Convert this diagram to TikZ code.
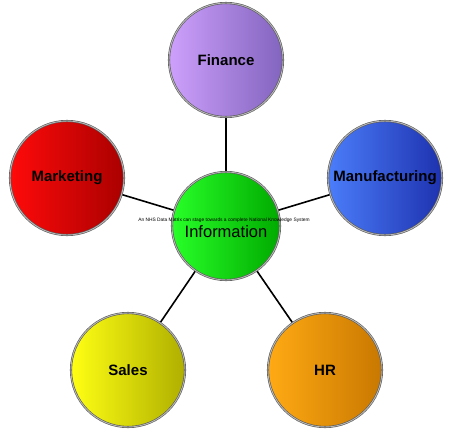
\documentclass[tikz,border=0pt]{standalone}
\usepackage{fontspec}
\setmainfont{Liberation Sans}
\begin{document}
\begin{tikzpicture}[x=1pt,y=-1pt,
  bubble/.style={circle, minimum size=114pt, inner sep=0pt, draw=black!65, double=gray!55, double distance=0.9pt, line width=0.6pt, shading angle=#1, font=\fontsize{15}{17}\selectfont\bfseries},
  bubble/.default=60,
  link/.style={line width=1.6pt, black}]
\useasboundingbox (0,0) rectangle (450,440);
\fill[white] (0,0) rectangle (450,440);
% connectors (behind)
\coordinate (ic) at (226,226);
\coordinate (fc) at (226,60);
\coordinate (mc) at (67,178);
\coordinate (nc) at (385,178);
\coordinate (sc) at (128,370);
\coordinate (hc) at (325,370);
\draw[link] (ic) -- (fc);
\draw[link] (ic) -- (mc);
\draw[link] (ic) -- (nc);
\draw[link] (ic) -- (sc);
\draw[link] (ic) -- (hc);
% circles
\definecolor{finL}{RGB}{205,160,252}\definecolor{finM}{RGB}{175,135,230}\definecolor{finD}{RGB}{130,100,190}
\definecolor{mktL}{RGB}{255,10,10}\definecolor{mktM}{RGB}{225,0,0}\definecolor{mktD}{RGB}{170,0,0}
\definecolor{manL}{RGB}{75,125,250}\definecolor{manM}{RGB}{50,90,225}\definecolor{manD}{RGB}{30,50,175}
\definecolor{infL}{RGB}{40,255,40}\definecolor{infM}{RGB}{10,225,10}\definecolor{infD}{RGB}{0,170,0}
\definecolor{salL}{RGB}{255,255,20}\definecolor{salM}{RGB}{235,235,0}\definecolor{salD}{RGB}{175,175,0}
\definecolor{hrL}{RGB}{255,170,20}\definecolor{hrM}{RGB}{240,145,0}\definecolor{hrD}{RGB}{200,120,0}
\node[bubble, left color=finL, middle color=finM, right color=finD] (fin) at (fc) {Finance};
\node[bubble, left color=mktL, middle color=mktM, right color=mktD] (mkt) at (mc) {Marketing};
\node[bubble, left color=manL, middle color=manM, right color=manD] (man) at (nc) {\hspace*{-6pt}Manufacturing\hspace*{-6pt}};
\node[bubble, left color=salL, middle color=salM, right color=salD] (sal) at (sc) {Sales};
\node[bubble, left color=hrL, middle color=hrM, right color=hrD] (hr) at (hc) {HR};
\node[bubble, minimum size=108pt, left color=infL, middle color=infM, right color=infD] (inf) at (ic) {};
\node[font=\fontsize{16.5}{18}\selectfont] (infl) at (226,232) {Information};
\node[font=\fontsize{4.85}{5}\selectfont, inner sep=0pt] (sub) at (224,220) {An NHS Data Matrix can stage towards a complete National Knowledge System};
\end{tikzpicture}
\end{document}
